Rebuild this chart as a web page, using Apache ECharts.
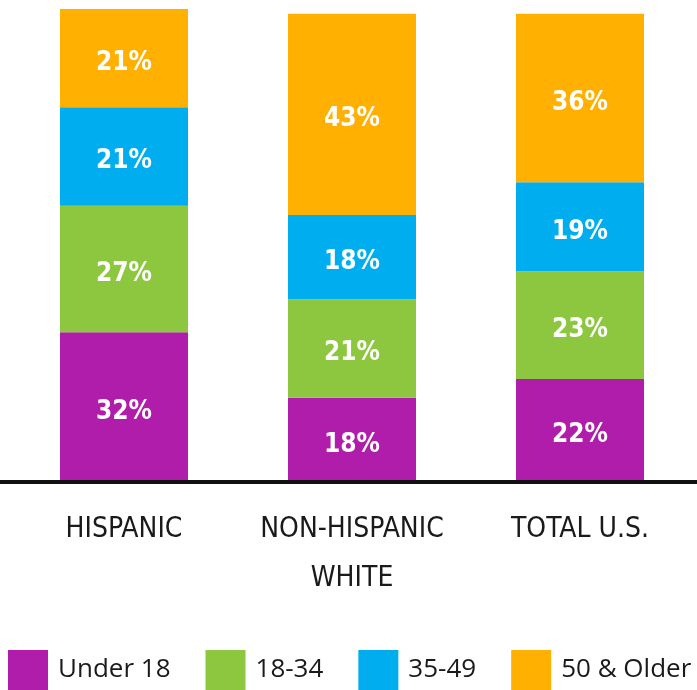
<!DOCTYPE html>
<html>
<head>
<meta charset="utf-8">
<script src="https://cdn.jsdelivr.net/npm/echarts@6/dist/echarts.min.js"></script>
<style>
  html, body { margin: 0; padding: 0; background: #fff; }
  #chart { width: 697px; height: 690px; }
</style>
</head>
<body>
<div id="chart"></div>
<script>
const categories = ['HISPANIC', 'NON-HISPANIC\nWHITE', 'TOTAL U.S.'];
const seriesNames = ['Under 18', '18-34', '35-49', '50 & Older'];
const under18 = [32, 18, 22];
const age18to34 = [27, 21, 23];
const age35to49 = [21, 18, 19];
const age50plus = [21, 43, 36];
const colors = ['#B01DAA', '#8DC63F', '#00AEEF', '#FFB000'];

const narrow = '"DejaVu Sans Condensed", "Roboto", sans-serif';

document.addEventListener('DOMContentLoaded', function () {
    const myChart = echarts.init(document.getElementById('chart'));
    const values = [under18, age18to34, age35to49, age50plus];

    const series = seriesNames.map(function (name, i) {
        return {
            name: name,
            type: 'bar',
            stack: 'total',
            barWidth: 128,
            clip: false,
            itemStyle: { color: colors[i] },
            label: {
                show: true,
                position: 'inside',
                offset: [0, 5],
                formatter: '{c}%',
                color: '#fff',
                fontFamily: narrow,
                fontWeight: 'bold',
                fontSize: 26
            },
            data: values[i]
        };
    });

    const option = {
        animation: false,
        grid: { left: 10, right: 3, top: 9, bottom: 208 },
        xAxis: {
            type: 'category',
            data: categories,
            axisLine: { show: false },
            axisTick: { show: false },
            axisLabel: {
                interval: 0,
                hideOverlap: false,
                margin: 23,
                color: '#1a1a1a',
                fontFamily: narrow,
                fontSize: 28,
                lineHeight: 49
            }
        },
        yAxis: { type: 'value', min: 0, max: 101, show: false },
        legend: {
            left: 8,
            top: 650,
            padding: 0,
            width: 1400,
            itemWidth: 40,
            itemHeight: 40,
            itemGap: 35,
            icon: 'rect',
            textStyle: {
                color: '#1a1a1a',
                fontFamily: '"Open Sans", sans-serif',
                fontSize: 26,
                padding: [0, 0, 0, 5]
            },
            data: seriesNames
        },
        graphic: [{
            type: 'rect',
            shape: { x: 0, y: 480, width: 697, height: 4 },
            style: { fill: '#111' },
            z: 10
        }],
        series: series
    };

    myChart.setOption(option);
});
</script>
</body>
</html>
